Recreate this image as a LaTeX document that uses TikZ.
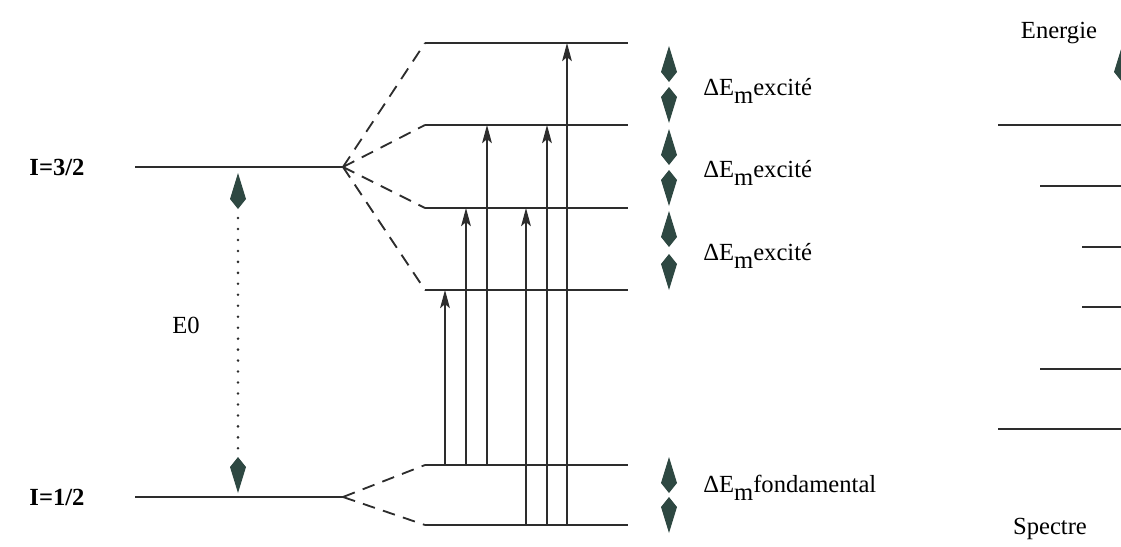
\documentclass[tikz,border=0pt]{standalone}
\usepackage{fontspec}
\setmainfont{Liberation Serif}
\usetikzlibrary{arrows.meta}
\definecolor{kitegreen}{RGB}{46,72,66}
\definecolor{inkgrey}{RGB}{45,45,45}
\tikzset{
    level/.style={inkgrey, line width=1.3pt},
    split/.style={inkgrey, line width=1.3pt, dash pattern=on 9pt off 6pt},
    trans/.style={inkgrey, line width=0.8pt, -{Stealth[length=13pt,width=7pt,inset=3pt]}},
    kite/.pic={\fill[kitegreen] (0,0) -- (-8,26) -- (0,36) -- (8,26) -- cycle;},
    lab/.style={inner sep=0pt, font=\fontsize{17.5}{20}\selectfont},
}
\newcommand{\dEm}[1]{ΔE\raisebox{-6pt}{m}#1}

\begin{document}
\begin{tikzpicture}[x=0.025cm, y=-0.025cm]
    \useasboundingbox (0,0) rectangle (1121,547);

    % nuclear levels
    \coordinate (a1) at (343,167);
    \coordinate (a0) at (343,497);
    \draw[level] (135,167) -- (a1);
    \draw[level] (135,497) -- (a0);
    \node[lab, font=\fontsize{17.5}{20}\selectfont\bfseries] (i32) at (57,167) {I=3/2};
    \node[lab, font=\fontsize{17.5}{20}\selectfont\bfseries] (i12) at (57,497) {I=1/2};

    % E0 gap
    \pic at (238,173) {kite};
    \pic[yscale=-1] at (238,493) {kite};
    \draw[inkgrey, line width=2pt, line cap=round, dash pattern=on 0pt off 7.8pt] (238,218) -- (238,450);
    \node[lab] (e0) at (186,325) {E0};

    % split levels
    \foreach \n/\y in {4/43, 3/125, 2/208, 1/290} {
        \coordinate (u\n) at (425,\y);
        \draw[level] (u\n) -- ++(203,0);
        \draw[split] (a1) -- (u\n);
    }
    \foreach \n/\y in {2/465, 1/525} {
        \coordinate (g\n) at (425,\y);
        \draw[level] (g\n) -- ++(203,0);
        \draw[split] (a0) -- (g\n);
    }

    % transitions
    \foreach \x/\s/\e in {445/g2/u1, 466/g2/u2, 487/g2/u3, 526/g1/u2, 547/g1/u3, 567/g1/u4}
        \draw[trans] (\x,0 |- \s) -- (\x,0 |- \e);

    % splittings
    \foreach \t/\b in {46/123, 129/206, 211/290, 457/533} {
        \pic at (669,\t) {kite};
        \pic[yscale=-1] at (669,\b) {kite};
    }
    \node[lab, anchor=base west] (dx3) at (703,95) {\dEm{excité}};
    \node[lab, anchor=base west] (dx2) at (703,177) {\dEm{excité}};
    \node[lab, anchor=base west] (dx1) at (703,260) {\dEm{excité}};
    \node[lab, anchor=base west] (dfd) at (703,492) {\dEm{fondamental}};

    % spectrum
    \foreach \y/\x in {125/998, 186/1040, 247/1082, 307/1082, 369/1040, 429/998}
        \draw[level] (\x,\y) -- (1130,\y);
    \pic at (1122,46) {kite};
    \node[lab] (energie) at (1059,33) {Energie};
    \node[lab] (spectre) at (1050,529) {Spectre};
\end{tikzpicture}
\end{document}
